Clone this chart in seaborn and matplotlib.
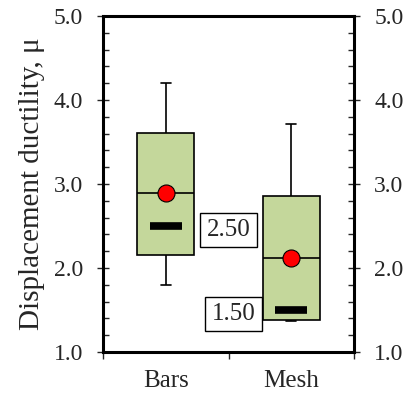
import numpy as np
import pandas as pd
import matplotlib
matplotlib.use('Agg')
import matplotlib.pyplot as plt
import seaborn as sns

# five-number summaries (min, q1, median, q3, max)
categories = ['Bars', 'Mesh']
bars_vals = [1.80, 2.15, 2.89, 3.61, 4.20]
mesh_vals = [1.37, 1.38, 2.12, 2.86, 3.72]
means = [2.89, 2.12]
targets = [2.50, 1.50]
target_labels = ['2.50', '1.50']

sns.set_style('white')
plt.rcParams['font.family'] = ['Liberation Serif', 'DejaVu Serif']

df = pd.DataFrame({
    'group': ['Bars'] * len(bars_vals) + ['Mesh'] * len(mesh_vals),
    'value': bars_vals + mesh_vals,
})
mean_df = pd.DataFrame({'group': categories, 'value': means})
target_df = pd.DataFrame({'group': categories, 'value': targets})

fig = plt.figure(figsize=(4.07, 3.94), dpi=100)
ax = fig.add_axes([0.253, 0.1066, 0.617, 0.8525])

sns.boxplot(data=df, x='group', y='value', order=categories, whis=(0, 100),
            width=0.45, color='#c4d79b', saturation=1, linecolor='black',
            linewidth=1.2, capwidths=0.08, ax=ax,
            medianprops=dict(color='black', linewidth=1.2))

# target values as thick bars
sns.scatterplot(data=target_df, x='group', y='value', marker='_', s=500,
                linewidth=5.5, color='black', ax=ax, zorder=4)
# mean dots
sns.scatterplot(data=mean_df, x='group', y='value', marker='o', s=150,
                color='red', edgecolor='black', linewidth=0.8, ax=ax, zorder=5)

box = dict(boxstyle='square,pad=0.25', facecolor='white', edgecolor='black', linewidth=1)
ax.text(0.5, 2.45, target_labels[0], ha='center', va='center', fontsize=18, bbox=box, zorder=6)
ax.text(0.54, 1.45, target_labels[1], ha='center', va='center', fontsize=18, bbox=box, zorder=6)

ax.set_xlim(-0.5, 1.5)
ax.set_ylim(1.0, 5.0)
ax.set_yticks(np.arange(1.0, 5.01, 1.0))
ax.set_yticks(np.arange(1.0, 5.01, 0.2), minor=True)
ax.yaxis.set_major_formatter(matplotlib.ticker.FormatStrFormatter('%.1f'))
ax.tick_params(axis='y', which='major', direction='inout', length=9, width=1,
               left=True, right=True, labelleft=True, labelright=True, labelsize=17, pad=10)
ax.tick_params(axis='y', which='minor', direction='in', length=4.5, width=1,
               left=True, right=True)

# category boundary ticks below the axis, labels without ticks
ax.set_xticks([-0.5, 0.5, 1.5], minor=True)
ax.set_xticks([0, 1])
ax.set_xticklabels(categories)
ax.tick_params(axis='x', which='major', length=0, labelsize=18, pad=13)
ax.tick_params(axis='x', which='minor', direction='out', length=5, width=1, bottom=True)

ax.set_xlabel('')
ax.set_ylabel('Displacement ductility, μ', fontsize=21, labelpad=6)
for s in ax.spines.values():
    s.set_linewidth(2.2)
    s.set_color('black')

fig.savefig('out.png', dpi=100)
